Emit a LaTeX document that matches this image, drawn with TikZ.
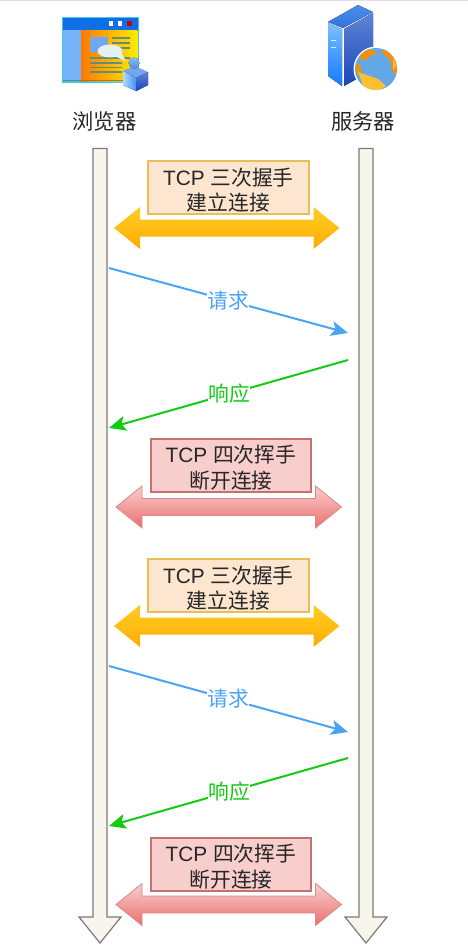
\documentclass[tikz,border=0pt]{standalone}
\usepackage{fontspec}
\setmainfont[Scale=1]{Liberation Sans}
\newfontfamily\cjkf{Noto Sans CJK SC}
\usetikzlibrary{arrows.meta,calc}
\definecolor{txt}{HTML}{262626}
\definecolor{lblue}{HTML}{4AA3F5}
\definecolor{lgreen}{HTML}{12CC12}
\definecolor{lifefill}{HTML}{F8F6EC}
\definecolor{arrowtop}{HTML}{FFCB24}
\definecolor{arrowmid}{HTML}{FFBE14}
\definecolor{arrowbot}{HTML}{FFA905}
\definecolor{boxyellow}{HTML}{FDE6CF}
\definecolor{boxyellowline}{HTML}{E8BE58}
\definecolor{boxred}{HTML}{F8CECC}
\definecolor{boxredline}{HTML}{C47270}
\definecolor{redline}{HTML}{D88A88}
\definecolor{redtop}{HTML}{F8CFCD}
\definecolor{redbot}{HTML}{EA6F6D}
\definecolor{winblue}{HTML}{0F6FE6}
\definecolor{winedge}{HTML}{45C4EE}
\definecolor{pane}{HTML}{76B4FA}
\definecolor{barline}{HTML}{5F8F78}
\definecolor{bubble}{HTML}{E4F0F8}
\definecolor{winimg}{HTML}{6FA8EC}
\definecolor{topface}{HTML}{4C8FE8}
\definecolor{topfaceb}{HTML}{2F74DC}
\definecolor{lefta}{HTML}{7CC0FF}
\definecolor{leftb}{HTML}{1478FF}
\definecolor{righta}{HTML}{5E86D6}
\definecolor{rightb}{HTML}{1C45B8}
\definecolor{ocean}{HTML}{62A8E6}
\definecolor{landa}{HTML}{F09010}
\definecolor{landb}{HTML}{FFC030}
\tikzset{
  life/.style={draw=black!52,line width=1.2pt,fill=lifefill,line join=miter},
  yellowarrow/.style={draw=none,top color=arrowtop,bottom color=arrowbot,middle color=arrowmid},
  yellowbox/.style={draw=boxyellowline,fill=boxyellow,line width=1.1pt,minimum width=161pt,minimum height=53pt,inner sep=0pt,align=center,text=txt,font=\fontsize{20.8}{25.3}\selectfont},
  redbox/.style={draw=boxredline,fill=boxred,line width=1.1pt,minimum width=160pt,minimum height=53pt,inner sep=0pt,align=center,text=txt,font=\fontsize{20.8}{25.3}\selectfont},
  redarrow/.style={draw=redline,line width=0.8pt,top color=redtop,bottom color=redbot},
  msgblue/.style={draw=lblue,line width=2pt,-{Stealth[length=17pt,width=15pt,inset=4pt]}},
  msggreen/.style={draw=lgreen,line width=2pt,-{Stealth[length=17pt,width=15pt,inset=4pt]}},
  msgtext/.style={fill=white,inner xsep=0.5pt,inner ysep=0pt,font=\cjkf\fontsize{20.8}{24}\selectfont},
  head/.style={text=txt,font=\cjkf\fontsize{21.3}{25}\selectfont,inner sep=0pt},
}
% double arrow: style, y centre, left tip x, right tip x
\newcommand{\dblarr}[4]{%
  \path[#1] (#3,#2) -- (#3+26,#2-21) -- (#3+26,#2-8.5) -- (#4-26,#2-8.5) -- (#4-26,#2-21) -- (#4,#2)
    -- (#4-26,#2+21) -- (#4-26,#2+8.5) -- (#3+26,#2+8.5) -- (#3+26,#2+21) -- cycle;}
\newcommand{\lifeline}[1]{%
  \path[life] (#1-7,148.5) -- (#1+7,148.5) -- (#1+7,917) -- (#1+21,917) -- (#1,943) -- (#1-21,917) -- (#1-7,917) -- cycle;}
\newcommand{\opentext}{\rule{0pt}{22pt}TCP {\cjkf 三次握手}\\{\cjkf 建立连接}}
\newcommand{\closetext}{\rule{0pt}{22pt}TCP {\cjkf 四次挥手}\\{\cjkf 断开连接}}
\begin{document}
\begin{tikzpicture}[x=1pt,y=-1pt]
\useasboundingbox (0,0) rectangle (468,945);
\fill[black!12] (0,0) rectangle (468,1);

% browser icon
\fill[winedge] (61.5,17) rectangle (138.5,82.5);
\fill[winblue] (62.5,18) rectangle (137.5,30);
\fill[white] (108.5,21) rectangle (113,25.5);
\fill[white] (117.5,21) rectangle (122,25.5);
\fill[red!80!black] (127,21) rectangle (131.5,25.5);
\fill[pane] (62.5,30) rectangle (81,80);
\fill[left color=orange!95!red,right color=yellow!85!orange] (81,30) rectangle (137.5,81);
\fill[barline] (62.5,79.5) rectangle (137.5,81);
\fill[winimg] (90,37) rectangle (108,52);
\foreach \yy/\xa/\xb in {37/112/130,42/112/130,47/112/130,57/90/130,62/90/122,66.5/90/122,71/90/122}
  \fill[barline] (\xa,\yy) rectangle (\xb,\yy+1.5);
\fill[bubble] (110,51) ellipse (12.5 and 6.5);
\fill[bubble] (112,55) -- (126,61) -- (120,50) -- cycle;
\fill[winimg] (123,71) -- (135,66) -- (148,72) -- (136,78) -- cycle;
\fill[left color=lefta!60!white,right color=leftb!80] (123,71) -- (136,78) -- (136,91) -- (123,85) -- cycle;
\fill[top color=righta,bottom color=rightb] (136,78) -- (148,72) -- (148,85) -- (136,91) -- cycle;
\fill[top color=lefta,bottom color=righta] (134,63) circle (5.5);

% server icon
\fill[white] (326.5,21) -- (358,3) -- (374,12) -- (374,70) -- (343,88) -- (326.5,77) -- cycle;
\fill[top color=topface,bottom color=topfaceb] (328,22) -- (358,5) -- (373,12) -- (343,28) -- cycle;
\fill[top color=lefta,bottom color=leftb] (328,23) -- (342,29) -- (342,86) -- (328,76) -- cycle;
\fill[top color=righta,bottom color=rightb] (344,29) -- (373,13) -- (373,70) -- (344,86) -- cycle;
\fill[white!80!cyan] (331,40) rectangle (336,41.2);
\fill[white!80!cyan] (331,47) rectangle (336,48.2);
\fill[white] (376,69) circle (22.5);
\begin{scope}
\clip (376,69) circle (21);
\fill[ocean] (355,48) rectangle (397,90);
\fill[landa] (362,51) -- (370,49) -- (378,53) -- (370,56) -- (366,60) -- (360,60) -- cycle;
\fill[landa] (384,48) -- (398,52) -- (398,78) -- (392,70) -- (391,62) -- (388,58) -- (382,53) -- cycle;
\fill[landb] (393,58) -- (396,66) -- (393,70) -- cycle;
\fill[landa] (355,66) -- (360,64) -- (362,72) -- (357,74) -- cycle;
\fill[landb] (358,72) -- (367,75) -- (378,79) -- (386,86) -- (378,91) -- (364,88) -- cycle;
\end{scope}

% titles
\node[head] (browser) at (104.5,121) {浏览器};
\node[head] (server) at (363,121) {服务器};

% lifelines
\lifeline{100}
\lifeline{366}

% exchange 1
\dblarr{yellowarrow}{228}{114}{339.5}
\node[yellowbox] (open1) at (228.5,187.5) {\opentext};
\coordinate (req1a) at (109,268); \coordinate (req1b) at (348,333);
\coordinate (res1a) at (348,360); \coordinate (res1b) at (109,428);
\draw[msgblue] (req1a) -- (req1b);
\node[msgtext,text=lblue] (req1) at (228,301) {请求};
\draw[msggreen] (res1a) -- (res1b);
\node[msgtext,text=lgreen] (res1) at (229,394) {响应};
\dblarr{redarrow}{507}{116}{341.5}
\node[redbox] (close1) at (231,465.5) {\closetext};

% exchange 2
\dblarr{yellowarrow}{626}{114}{339.5}
\node[yellowbox] (open2) at (228.5,585.5) {\opentext};
\coordinate (req2a) at (109,666); \coordinate (req2b) at (348,732);
\coordinate (res2a) at (348,758); \coordinate (res2b) at (109,826);
\draw[msgblue] (req2a) -- (req2b);
\node[msgtext,text=lblue] (req2) at (228,699) {请求};
\draw[msggreen] (res2a) -- (res2b);
\node[msgtext,text=lgreen] (res2) at (229,792) {响应};
\dblarr{redarrow}{904.5}{116}{341.5}
\node[redbox] (close2) at (231,864.5) {\closetext};
\end{tikzpicture}
\end{document}
